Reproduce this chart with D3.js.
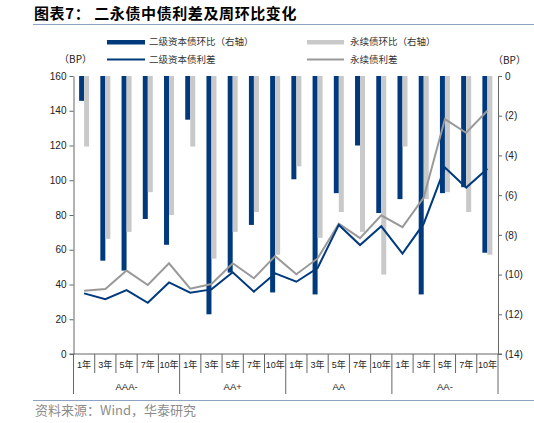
<!DOCTYPE html>
<html>
<head>
<meta charset="utf-8">
<script src="https://cdn.jsdelivr.net/npm/d3@7"></script>
<style>
  body { margin: 0; background: #fff; }
  text { font-family: "Liberation Sans", "Noto Sans CJK SC", sans-serif; }
  .cn { font-family: "Noto Sans CJK SC", sans-serif; }
</style>
</head>
<body>
<svg id="chart" width="534" height="423"></svg>
<script>
// categories
var groups = ["AAA-", "AA+", "AA", "AA-"]
var tenors = ["1年", "3年", "5年", "7年", "10年"]
var leftTicks = [0, 20, 40, 60, 80, 100, 120, 140, 160]
var rightTicks = [0, -2, -4, -6, -8, -10, -12, -14]
var series = ["二级资本债", "永续债"]

// weekly change, BP (right axis)
var tier2Chg = [-1.25, -9.3, -9.8, -7.2, -8.5,
                -2.2, -12.0, -9.9, -7.5, -10.9,
                -5.2, -11.0, -5.9, -3.5, -6.9,
                -6.2, -11.0, -5.9, -5.6, -8.9]
var perpChg = [-3.55, -8.2, -7.85, -5.85, -7.0,
               -3.55, -9.2, -7.85, -6.85, -9.0,
               -4.55, -8.15, -6.85, -7.85, -10.0,
               -3.55, -6.2, -5.85, -6.85, -9.0]

// spread, BP (left axis)
var tier2Spread = [34.9, 31.5, 36.8, 29.5, 41.2,
                   35.3, 37.2, 47.0, 35.9, 46.4,
                   41.6, 49.5, 74.3, 62.7, 73.5,
                   57.8, 75.0, 107.3, 95.8, 106.6]
var perpSpread = [36.4, 37.4, 48.0, 39.7, 52.2,
                  37.6, 40.3, 52.2, 43.6, 56.3,
                  45.9, 55.0, 75.0, 66.7, 79.8,
                  73.0, 90.0, 135.2, 127.3, 140.0]

var blue = "#003a7d", lightGray = "#c9c9c9", midGray = "#999999", axisColor = "#666"

var keys = []
groups.forEach(g => tenors.forEach(t => keys.push(g + "|" + t)))

var plotL = 73.5, plotR = 498, plotT = 76, plotB = 354

var svg = d3.select("#chart")

var x = d3.scaleBand().domain(keys).range([plotL, plotR])
var xBar = d3.scaleBand().domain(series).range([x.bandwidth() / 2 - 5, x.bandwidth() / 2 + 5])
var yL = d3.scaleLinear().domain([0, 160]).range([plotB, plotT])
var yR = d3.scaleLinear().domain([0, -14]).range([plotT, plotB])

// Title
svg.append("text")
    .attr("class", "cn")
    .attr("x", 34)
    .attr("y", 19)
    .style("font-size", "15px")
    .style("font-weight", "bold")
    .style("letter-spacing", "0.6px")
    .style("fill", "#000")
    .text("图表7：  二永债中债利差及周环比变化")

svg.append("line").attr("x1", 33).attr("x2", 534).attr("y1", 24.5).attr("y2", 24.5)
    .style("stroke", "#8da3c2").style("stroke-width", 1.2)

// Legend
svg.append("rect").attr("x", 107).attr("y", 40).attr("width", 38).attr("height", 4.5).style("fill", blue)
svg.append("rect").attr("x", 307).attr("y", 40).attr("width", 37).attr("height", 4.5).style("fill", lightGray)
svg.append("line").attr("x1", 107).attr("x2", 145).attr("y1", 59.5).attr("y2", 59.5).style("stroke", blue).style("stroke-width", 2)
svg.append("line").attr("x1", 307).attr("x2", 344).attr("y1", 59.5).attr("y2", 59.5).style("stroke", midGray).style("stroke-width", 2)
var legendText = [["二级资本债环比（右轴）", 149, 42.5], ["永续债环比（右轴）", 350, 42.5],
                  ["二级资本债利差", 149, 60], ["永续债利差", 350, 60]]
legendText.forEach(function(d) {
  svg.append("text").attr("class", "cn").attr("x", d[1]).attr("y", d[2])
      .attr("dominant-baseline", "middle")
      .style("font-size", "9.5px").style("fill", "#333").text(d[0])
})

// unit labels
svg.append("text").attr("class", "cn").attr("x", 92).attr("y", 60).attr("text-anchor", "end")
    .attr("dominant-baseline", "middle").style("font-size", "10px").style("fill", "#222").text("（BP）")
svg.append("text").attr("class", "cn").attr("x", 493).attr("y", 61.5)
    .attr("dominant-baseline", "middle").style("font-size", "10px").style("fill", "#222").text("（BP）")

// Bars (hang from 0 on the right axis)
var barData = keys.map((k, i) => ({ key: k, vals: [tier2Chg[i], perpChg[i]] }))

svg.append("g").selectAll("g")
    .data(barData)
    .enter()
    .append("g")
    .attr("transform", d => "translate(" + x(d.key) + ",0)")
    .selectAll("rect")
    .data(d => d.vals.map((v, j) => ({ s: series[j], v: v })))
    .enter()
    .append("rect")
    .attr("x", d => xBar(d.s))
    .attr("width", xBar.bandwidth())
    .attr("y", yR(0))
    .attr("height", d => yR(d.v) - yR(0))
    .style("fill", d => d.s == series[0] ? blue : lightGray)

// Lines
var line = d3.line()
    .x((d, i) => x(keys[i]) + x.bandwidth() / 2)
    .y(d => yL(d))

svg.append("path").datum(perpSpread).attr("d", line)
    .style("fill", "none").style("stroke", midGray).style("stroke-width", 2)
svg.append("path").datum(tier2Spread).attr("d", line)
    .style("fill", "none").style("stroke", blue).style("stroke-width", 2)

// Axes
var gl = svg.append("g")
    .attr("transform", "translate(" + plotL + ",0)")
    .call(d3.axisLeft(yL).tickValues(leftTicks).tickSize(4).tickSizeOuter(0).tickPadding(3))
var gr = svg.append("g")
    .attr("transform", "translate(" + plotR + ",0)")
    .call(d3.axisRight(yR).tickValues(rightTicks).tickSize(4).tickSizeOuter(0).tickPadding(3)
        .tickFormat(d => d == 0 ? "0" : "(" + (-d) + ")"))

;[gl, gr].forEach(function(g) {
  g.selectAll("path, line").style("stroke", axisColor)
  g.selectAll("text").style("font-size", "10px").style("fill", "#222")
      .style("font-family", "'Liberation Sans', sans-serif")
})

// x axis: baseline, category cells and group cells
svg.append("line").attr("x1", plotL - 4).attr("x2", plotR + 4).attr("y1", plotB).attr("y2", plotB)
    .style("stroke", axisColor)

var sep = svg.append("g")
keys.forEach(function(k, i) {
  if (i % tenors.length != 0) {
    sep.append("line").attr("x1", x(k)).attr("x2", x(k)).attr("y1", plotB).attr("y2", 373)
        .style("stroke", axisColor)
  }
  sep.append("text").attr("x", x(k) + x.bandwidth() / 2).attr("y", 365.5)
      .attr("text-anchor", "middle").attr("dominant-baseline", "middle")
      .style("font-size", "9px").style("fill", "#222").text(k.split("|")[1])
})

var gx = d3.scaleBand().domain(groups).range([plotL, plotR])
groups.forEach(function(g) {
  sep.append("line").attr("x1", gx(g)).attr("x2", gx(g)).attr("y1", plotB).attr("y2", 394)
      .style("stroke", axisColor)
  sep.append("text").attr("x", gx(g) + gx.bandwidth() / 2).attr("y", 387)
      .attr("text-anchor", "middle").attr("dominant-baseline", "middle")
      .style("font-size", "9.5px").style("fill", "#222").text(g)
})
sep.append("line").attr("x1", plotR).attr("x2", plotR).attr("y1", plotB).attr("y2", 394)
    .style("stroke", axisColor)

// Source
svg.append("line").attr("x1", 33).attr("x2", 534).attr("y1", 400.5).attr("y2", 400.5)
    .style("stroke", "#8da3c2").style("stroke-width", 1.2)
svg.append("text").attr("class", "cn").attr("x", 35).attr("y", 411.5)
    .attr("dominant-baseline", "middle")
    .style("font-size", "13px").style("fill", "#8c8c8c")
    .text("资料来源：Wind，华泰研究")
</script>
</body>
</html>
